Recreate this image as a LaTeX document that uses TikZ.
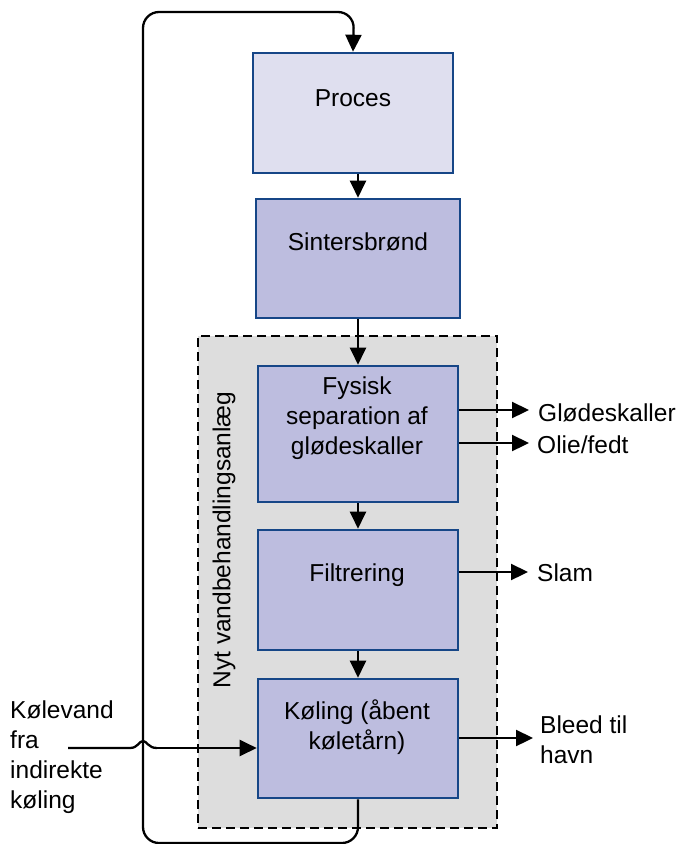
\documentclass[tikz,border=0pt]{standalone}
\usepackage{fontspec}
\setmainfont{Liberation Sans}
\usetikzlibrary{arrows.meta}
\definecolor{boxborder}{RGB}{22,70,135}
\definecolor{lightfill}{RGB}{223,223,239}
\definecolor{boxfill}{RGB}{189,189,223}
\definecolor{plantfill}{RGB}{221,221,221}
\begin{document}
\begin{tikzpicture}[x=1pt,y=-1pt,
  every node/.style={font=\fontsize{24.5}{30}\selectfont},
  procbox/.style={draw=boxborder,line width=2.6pt,fill=boxfill,inner sep=0pt},
  boxtext/.style={align=center,inner sep=0pt},
  arr/.style={line width=2.3pt,-{Triangle[length=17pt,width=16pt]}},
  plain/.style={line width=2.3pt},
  outtext/.style={anchor=west,align=left,inner sep=0pt}]
\useasboundingbox (0,0) rectangle (678,844);
% plant area
\node[draw=black,dash pattern=on 9pt off 5pt,line width=1.6pt,fill=plantfill,
  minimum width=299pt,minimum height=492pt,inner sep=0pt] (plant) at (347.5,582) {};
\node[rotate=90,inner sep=0pt] (plantlabel) at (224,540) {Nyt vandbehandlingsanlæg};
% boxes
\node[procbox,fill=lightfill,minimum width=200pt,minimum height=120pt] (proc) at (353,113) {};
\node[boxtext] (proct) at (353,98) {Proces};
\node[procbox,minimum width=204pt,minimum height=119pt] (sint) at (358,258.5) {};
\node[boxtext] (sintt) at (358,242) {Sintersbrønd};
\node[procbox,minimum width=200pt,minimum height=136pt] (fys) at (358,434) {};
\node[boxtext] (fyst) at (357,418) {Fysisk\\separation af\\glødeskaller};
\node[procbox,minimum width=200pt,minimum height=120pt] (filt) at (358,590) {};
\node[boxtext] (filtt) at (357,575) {Filtrering};
\node[procbox,minimum width=200pt,minimum height=119pt] (kol) at (358,738.5) {};
\node[boxtext] (kolt) at (357,727) {Køling (åbent\\køletårn)};
% vertical arrows
\draw[arr] (sint.north |- proc.south) -- (sint.north);
\draw[arr] (sint.south) -- (fys.north);
\draw[arr] (fys.south) -- (filt.north);
\draw[arr] (filt.south) -- (kol.north);
% loop
\coordinate (lb) at (358,843);
\draw[arr,rounded corners=16pt] (kol.south) -- (lb) -- (143,843) -- (143,12) -- (354,12) -- (proc.north);
% input
\coordinate (inp) at (68,748);
\coordinate (hopa) at (130,748);
\coordinate (hopb) at (157,748);
\draw[plain] (inp) -- (hopa) .. controls (138,748) and (139,741) .. (143,741)
  .. controls (147,741) and (148,748) .. (hopb);
\draw[arr] (hopb) -- (kol.west |- inp);
\node[outtext,anchor=north west] (intext) at (10,701) {Kølevand\\fra\\indirekte\\køling};
% outputs
\coordinate (o1) at (529,410);
\coordinate (o2) at (529,443);
\coordinate (o3) at (528,572);
\coordinate (o4) at (533,738);
\draw[arr] (fys.east |- o1) -- (o1);
\draw[arr] (fys.east |- o2) -- (o2);
\draw[arr] (filt.east |- o3) -- (o3);
\draw[arr] (kol.east |- o4) -- (o4);
\node[outtext] (t1) at (538,413) {Glødeskaller};
\node[outtext] (t2) at (537,445) {Olie/fedt};
\node[outtext] (t3) at (537,573) {Slam};
\node[outtext] (t4) at (540,740) {Bleed til\\havn};
\end{tikzpicture}
\end{document}
